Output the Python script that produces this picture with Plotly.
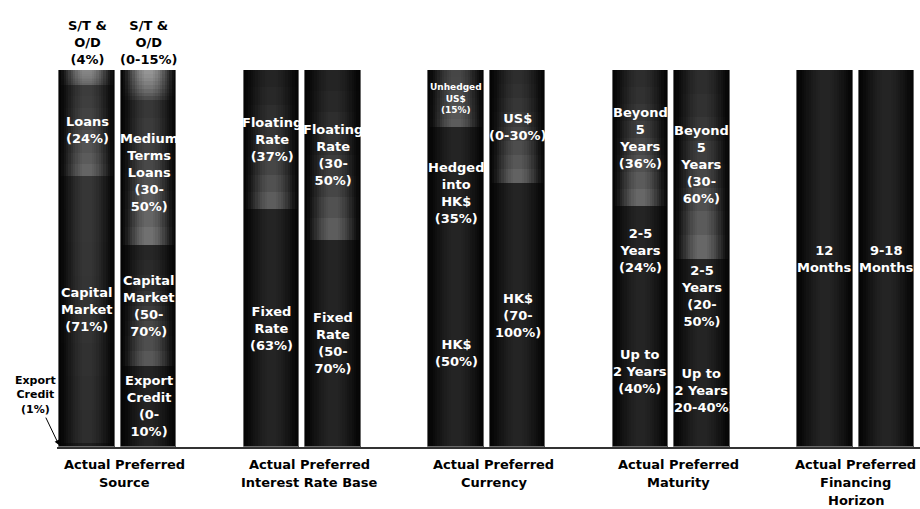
import plotly.graph_objects as go

# ---------------- data (segment values bottom -> top, % of bar height) ----------------
GROUPS = ["Source", "Interest Rate Base", "Currency", "Maturity", "Financing<br>Horizon"]
BAR_NAMES = ["Actual", "Preferred"]

SRC_ACT_VAL = [1, 71, 24, 4]
SRC_ACT_LBL = ["Export<br>Credit<br>(1%)", "Capital<br>Market<br>(71%)", "Loans<br>(24%)", "S/T &<br>O/D<br>(4%)"]
SRC_PRE_VAL = [21.5, 32, 38.5, 8]
SRC_PRE_LBL = ["Export<br>Credit<br>(0-<br>10%)", "Capital<br>Market<br>(50-<br>70%)",
               "Medium<br>Terms<br>Loans<br>(30-<br>50%)", "S/T &<br>O/D<br>(0-15%)"]

IRB_ACT_VAL = [63, 37]
IRB_ACT_LBL = ["Fixed<br>Rate<br>(63%)", "Floating<br>Rate<br>(37%)"]
IRB_PRE_VAL = [55, 45]
IRB_PRE_LBL = ["Fixed<br>Rate<br>(50-<br>70%)", "Floating<br>Rate<br>(30-<br>50%)"]

CUR_ACT_VAL = [50, 35, 15]
CUR_ACT_LBL = ["HK$<br>(50%)", "Hedged<br>into<br>HK$<br>(35%)", "Unhedged<br>US$<br>(15%)"]
CUR_PRE_VAL = [70, 30]
CUR_PRE_LBL = ["HK$<br>(70-<br>100%)", "US$<br>(0-30%)"]

MAT_ACT_VAL = [40, 24, 36]
MAT_ACT_LBL = ["Up to<br>2 Years<br>(40%)", "2-5<br>Years<br>(24%)", "Beyond<br>5<br>Years<br>(36%)"]
MAT_PRE_VAL = [30, 20, 50]
MAT_PRE_LBL = ["Up to<br>2 Years<br>(20-40%)", "2-5<br>Years<br>(20-<br>50%)", "Beyond<br>5<br>Years<br>(30-<br>60%)"]

FIN_ACT_VAL = [100]
FIN_ACT_LBL = ["12<br>Months"]
FIN_PRE_VAL = [100]
FIN_PRE_LBL = ["9-18<br>Months"]

# ---------------- styles ----------------
# (top grey, bottom grey) centre shade of each segment
SRC_ACT_SHADE = [(30, 30), (55, 45), (60, 105), (135, 100)]
SRC_PRE_SHADE = [(35, 35), (38, 95), (55, 120), (150, 70)]
IRB_ACT_SHADE = [(36, 36), (36, 100)]
IRB_PRE_SHADE = [(36, 36), (36, 100)]
CUR_ACT_SHADE = [(36, 36), (36, 36), (70, 95)]
CUR_PRE_SHADE = [(36, 36), (45, 105)]
MAT_ACT_SHADE = [(36, 36), (36, 36), (45, 110)]
MAT_PRE_SHADE = [(36, 36), (36, 36), (45, 110)]
FIN_ACT_SHADE = [(36, 36)]
FIN_PRE_SHADE = [(36, 36)]

# label placement: in = inside bar, above = above bar, arrow = left with arrow, small = inside small font
SRC_ACT_POS = ["arrow", "in", "in", "above"]
SRC_PRE_POS = ["in", "in", "in", "above"]
CUR_ACT_POS = ["in", "in", "small"]

bars_val = [SRC_ACT_VAL, SRC_PRE_VAL, IRB_ACT_VAL, IRB_PRE_VAL, CUR_ACT_VAL,
            CUR_PRE_VAL, MAT_ACT_VAL, MAT_PRE_VAL, FIN_ACT_VAL, FIN_PRE_VAL]
bars_lbl = [SRC_ACT_LBL, SRC_PRE_LBL, IRB_ACT_LBL, IRB_PRE_LBL, CUR_ACT_LBL,
            CUR_PRE_LBL, MAT_ACT_LBL, MAT_PRE_LBL, FIN_ACT_LBL, FIN_PRE_LBL]
bars_shade = [SRC_ACT_SHADE, SRC_PRE_SHADE, IRB_ACT_SHADE, IRB_PRE_SHADE, CUR_ACT_SHADE,
              CUR_PRE_SHADE, MAT_ACT_SHADE, MAT_PRE_SHADE, FIN_ACT_SHADE, FIN_PRE_SHADE]
bars_pos = [SRC_ACT_POS, SRC_PRE_POS, None, None, CUR_ACT_POS, None, None, None, None, None]

BAR_W = 0.91
GROUP_STEP = 3
xpos = [GROUP_STEP * g + b for g in range(len(GROUPS)) for b in range(len(BAR_NAMES))]

FONT = "DejaVu Sans"
N_LAYERS = 11
K_SLICES = 8
OVERLAP = 0.4

# ---------------- build rectangles (with vertical gradient slices), bottom -> top ----------------
rects = []  # (x, base, height, grey)
for x, vals, shades in zip(xpos, bars_val, bars_shade):
    base = 0.0
    total = sum(vals)
    for v, (top, bot) in zip(vals, shades):
        if top == bot:
            rects.append((x, base, v, top))
        else:
            for j in range(K_SLICES):
                f_from_top = 1 - (j + 0.5) / K_SLICES
                g = top + (bot - top) * f_from_top ** 1.6
                b0 = base + v * j / K_SLICES
                h = min(v / K_SLICES + OVERLAP, total - b0)
                rects.append((x, b0, h, g))
        base += v

fig = go.Figure()
for k in range(N_LAYERS):
    t_out = 1 - k / N_LAYERS * 0.92
    t_in = 1 - (k + 1) / N_LAYERS * 0.92 if k < N_LAYERS - 1 else 0
    m = (t_out + t_in) / 2
    inten = max(0.0, 1 - m * m) ** 1.6
    cols = []
    for (_, _, _, g) in rects:
        c = int(round(4 + (g - 4) * inten))
        cols.append(f"rgb({c},{c},{c})")
    fig.add_trace(go.Bar(
        x=[r[0] for r in rects], y=[r[2] for r in rects], base=[r[1] for r in rects],
        width=[BAR_W * t_out] * len(rects),
        marker=dict(color=cols, line=dict(width=0)),
        hoverinfo="skip", showlegend=False,
    ))

# thin outline around each full bar
fig.add_trace(go.Bar(
    x=xpos, y=[sum(v) for v in bars_val], base=[0] * len(xpos), width=[BAR_W] * len(xpos),
    marker=dict(color="rgba(0,0,0,0)", line=dict(color="#6a6a6a", width=1)),
    hoverinfo="skip", showlegend=False,
))

# ---------------- labels ----------------
ann = []
for i, (x, vals, lbls) in enumerate(zip(xpos, bars_val, bars_lbl)):
    pos = bars_pos[i] or ["in"] * len(vals)
    base = 0.0
    for v, lab, p in zip(vals, lbls, pos):
        mid = base + v / 2
        if p == "in":
            ann.append(dict(x=x, y=mid, text=lab, showarrow=False,
                            font=dict(family=FONT, size=13, color="white", weight="bold")))
        elif p == "small":
            ann.append(dict(x=x, y=mid, text=lab, showarrow=False,
                            font=dict(family=FONT, size=9, color="white", weight="bold")))
        elif p == "above":
            ann.append(dict(x=x, y=sum(vals), text=lab, showarrow=False, yanchor="bottom", yshift=1,
                            font=dict(family=FONT, size=13, color="black", weight="bold")))
        elif p == "arrow":
            ann.append(dict(x=x - BAR_W / 2, y=mid, text=lab, showarrow=True, ax=-24, ay=-50,
                            arrowhead=2, arrowsize=1, arrowwidth=1, arrowcolor="black",
                            font=dict(family=FONT, size=11, color="black", weight="bold")))
        base += v

XSHIFTS = [7, 7, 7, 7, 0]
for g, name in enumerate(GROUPS):
    lines = [" ".join(BAR_NAMES)] + name.split("<br>")
    for li, line in enumerate(lines):
        ann.append(dict(x=GROUP_STEP * g + 0.5, y=0, yanchor="middle", yshift=-17 - 18 * li,
                        xshift=XSHIFTS[g], text=line, showarrow=False,
                        font=dict(family=FONT, size=13, color="black", weight="bold")))

fig.update_layout(
    width=920, height=509,
    margin=dict(l=57, r=0, t=70, b=62),
    paper_bgcolor="white", plot_bgcolor="white",
    barmode="overlay", bargap=0,
    showlegend=False,
    xaxis=dict(range=[-0.488, 13.545], showticklabels=False, showgrid=False, zeroline=False,
               showline=True, linecolor="#333333", linewidth=1.5, ticks=""),
    yaxis=dict(range=[0, 100], visible=False),
    annotations=ann,
)

fig.write_html("out.html")
